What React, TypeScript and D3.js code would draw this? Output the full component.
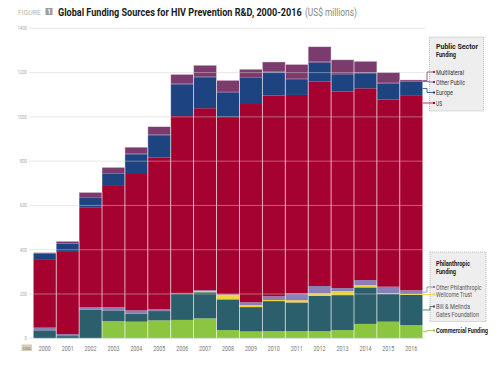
import { useLayoutEffect, useRef, useState } from "react";
import * as d3 from "d3";

const years = ["2000", "2001", "2002", "2003", "2004", "2005", "2006", "2007", "2008", "2009", "2010", "2011", "2012", "2013", "2014", "2015", "2016"];

const commercial = [0, 0, 0, 78, 75, 81, 83, 90, 37, 31, 33, 32, 32, 37, 65, 75, 60];
const gates = [36, 10, 129, 48, 36, 42, 117, 118, 139, 110, 135, 130, 160, 158, 165, 125, 136];
const wellcome = [0, 0, 0, 0, 0, 0, 0, 6, 21, 9, 5, 10, 12, 18, 10, 4, 4];
const otherPhil = [12, 9, 12, 14, 15, 8, 5, 3, 2, 13, 17, 31, 32, 14, 23, 29, 17];
const us = [306, 371, 451, 548, 616, 686, 799, 822, 801, 895, 906, 896, 923, 888, 866, 846, 881];
const europe = [27, 36, 43, 55, 89, 100, 143, 140, 109, 119, 105, 68, 86, 75, 68, 71, 60];
const otherPublic = [1, 2, 3, 3, 3, 3, 4, 4, 4, 3, 4, 5, 5, 4, 4, 4, 3];
const multilateral = [5, 10, 21, 26, 29, 36, 41, 50, 52, 35, 43, 65, 67, 64, 50, 47, 6];

const yTicks = [0, 200, 400, 600, 800, 1000, 1200, 1400];

const seriesKeys = ["commercial", "gates", "wellcome", "otherPhil", "us", "europe", "otherPublic", "multilateral"];
const seriesValues: Record<string, number[]> = { commercial, gates, wellcome, otherPhil, us, europe, otherPublic, multilateral };
const colors: Record<string, string> = {
  commercial: "#8cc540",
  gates: "#2c5f6c",
  wellcome: "#efd43a",
  otherPhil: "#8a7fb6",
  us: "#a6022f",
  europe: "#1d4380",
  otherPublic: "#5a3f7d",
  multilateral: "#7c3b6d",
};

const FONT = "'Roboto', 'Liberation Sans', sans-serif";

// condensed look: squeeze text into the measured width
function T({ w, children, ...rest }: any) {
  return (
    <text textLength={w} lengthAdjust="spacingAndGlyphs" {...rest}>{children}</text>
  );
}

// condensed by scaling the glyphs horizontally so the box really is w wide
function S({ x, y, w, children, ...rest }: any) {
  const ref = useRef<SVGTextElement>(null);
  const [sx, setSx] = useState(1);
  useLayoutEffect(() => {
    if (!ref.current) return;
    const nat = ref.current.getBBox().width;
    if (nat > 0) setSx(w / nat);
  }, [w]);
  return (
    <text ref={ref} transform={`translate(${x},${y}) scale(${sx},1)`} {...rest}>{children}</text>
  );
}

export default function App() {
  const width = 500, height = 374;
  const x = d3.scaleBand().domain(years).range([33.3, 422.7]).padding(0);
  const y = d3.scaleLinear().domain([0, 1400]).range([338.3, 28.3]);

  const table = years.map((yr, i) => {
    const row: Record<string, any> = { year: yr };
    seriesKeys.forEach(k => (row[k] = seriesValues[k][i]));
    return row;
  });
  const stacked = d3.stack<Record<string, any>>().keys(seriesKeys)(table);
  const layerOf = (k: string) => stacked.find(s => s.key === k)!;
  const last = years.length - 1;
  const mid = (k: string) => y((layerOf(k)[last][0] + layerOf(k)[last][1]) / 2);
  const barRight = x(years[last])! + x.bandwidth();

  const publicLegend = [
    { key: "multilateral", label: "Multilateral", ly: 72, w: 28 },
    { key: "otherPublic", label: "Other Public", ly: 82, w: 29 },
    { key: "europe", label: "Europe", ly: 92.5, w: 17 },
    { key: "us", label: "US", ly: 103, w: 6 },
  ];
  const philLegend = [
    { key: "otherPhil", label: ["Other Philanthropic"], ly: 287, w: [45.5] },
    { key: "wellcome", label: ["Wellcome Trust"], ly: 294.5, w: [36] },
    { key: "gates", label: ["Bill & Melinda", "Gates Foundation"], ly: 306.5, w: [34, 43] },
  ];

  const connector = (k: string, ly: number, elbowX: number) => {
    const sy = k === "us" ? ly : mid(k);
    return `M${barRight},${sy}H${elbowX}V${ly}H434`;
  };

  return (
    <div style={{ position: "absolute", left: 0, top: 0 }}>
      <svg width={width} height={height} style={{ display: "block", background: "#fff" }} fontFamily={FONT}>
        {/* title */}
        <T x={18} y={15} w={23} fontSize={8} fill="#b4b4b4">FIGURE</T>
        <rect x={45.5} y={8} width={7} height={7} fill="#9a9a9a" />
        <text x={49} y={14} fontSize={6.5} fill="#fff" fontWeight="bold" textAnchor="middle">1</text>
        <S x={58} y={15.5} w={244} fontSize={11} fontWeight="bold" fill="#1a1a1a">
          Global Funding Sources for HIV Prevention R&amp;D, 2000-2016
        </S>
        <S x={305} y={15.5} w={52} fontSize={10} fill="#888">(US$ millions)</S>

        {/* bars */}
        {stacked.map(layer => (
          <g key={layer.key} fill={colors[layer.key]}>
            {layer.map((d, i) => (
              <rect
                key={years[i]}
                x={x(years[i])}
                y={y(d[1])}
                width={x.bandwidth()}
                height={Math.max(0, y(d[0]) - y(d[1]))}
              />
            ))}
          </g>
        ))}
        {/* bar separators */}
        {years.map((yr, i) => {
          const top = stacked[stacked.length - 1][i][1];
          return (
            <rect key={yr} x={x(yr)} y={y(top)} width={x.bandwidth()} height={y(0) - y(top)}
              fill="none" stroke="#fff" strokeOpacity={0.45} strokeWidth={0.8} />
          );
        })}

        {/* grid */}
        {yTicks.map(t => (
          <g key={t}>
            <line x1={29} x2={425} y1={y(t)} y2={y(t)} stroke="#cfcfcf" strokeOpacity={0.6} strokeWidth={0.8} />
            <T x={27} y={y(t) + 1.8} w={String(t).length * 2.4} fontSize={5} fill="#aaa" textAnchor="end">{t}</T>
          </g>
        ))}

        {/* x axis */}
        <rect x={21.5} y={344.5} width={10.5} height={6.5} fill="#d6ceb6" />
        <T x={23} y={349.6} w={7.5} fontSize={4.2} fill="#7a7060">USD</T>
        {years.map(yr => (
          <T key={yr} x={x(yr)! + x.bandwidth() / 2 - 6} y={351} w={12} fontSize={7.5} fill="#777">{yr}</T>
        ))}

        {/* public legend */}
        <rect x={429.5} y={37} width={54} height={74} fill="#eeeeee" stroke="#a0a0a0" strokeWidth={0.7} strokeDasharray="1,1" />
        <T x={436} y={48.5} w={42} fontSize={7.5} fontWeight="bold" fill="#1a1a1a">Public Sector</T>
        <T x={436} y={56.5} w={20} fontSize={7.5} fontWeight="bold" fill="#1a1a1a">Funding</T>
        {publicLegend.map((l, i) => (
          <g key={l.key}>
            <path d={connector(l.key, l.ly, 427 + (i === 1 ? 1.5 : 0))} fill="none" stroke={colors[l.key]} strokeWidth={0.8} />
            <rect x={433} y={l.ly - 1} width={2} height={2} fill={colors[l.key]} />
            <T x={436} y={l.ly + 2.6} w={l.w} fontSize={7.5} fill="#333">{l.label}</T>
          </g>
        ))}

        {/* philanthropic legend */}
        <rect x={430} y={252} width={56} height={69.5} fill="#eeeeee" stroke="#a0a0a0" strokeWidth={0.7} strokeDasharray="1,1" />
        <T x={436} y={265.5} w={34} fontSize={7.5} fontWeight="bold" fill="#1a1a1a">Philanthropic</T>
        <T x={436} y={273.5} w={20} fontSize={7.5} fontWeight="bold" fill="#1a1a1a">Funding</T>
        {philLegend.map((l, i) => (
          <g key={l.key}>
            <path d={connector(l.key, l.ly, 427 + i * 1.5)} fill="none" stroke={colors[l.key]} strokeWidth={0.8} />
            <rect x={433} y={l.ly - 1} width={2} height={2} fill={colors[l.key]} />
            {l.label.map((s, j) => (
              <T key={s} x={436} y={l.ly + 2.6 + j * 8} w={l.w[j]} fontSize={7.5} fill="#555">{s}</T>
            ))}
          </g>
        ))}

        {/* commercial */}
        <path d={connector("commercial", 330.5, 427)} fill="none" stroke={colors.commercial} strokeWidth={0.8} />
        <rect x={433} y={329.5} width={2} height={2} fill={colors.commercial} />
        <T x={436} y={333} w={52} fontSize={6.4} fontWeight="bold" fill="#1a1a1a">Commercial Funding</T>
      </svg>
    </div>
  );
}
